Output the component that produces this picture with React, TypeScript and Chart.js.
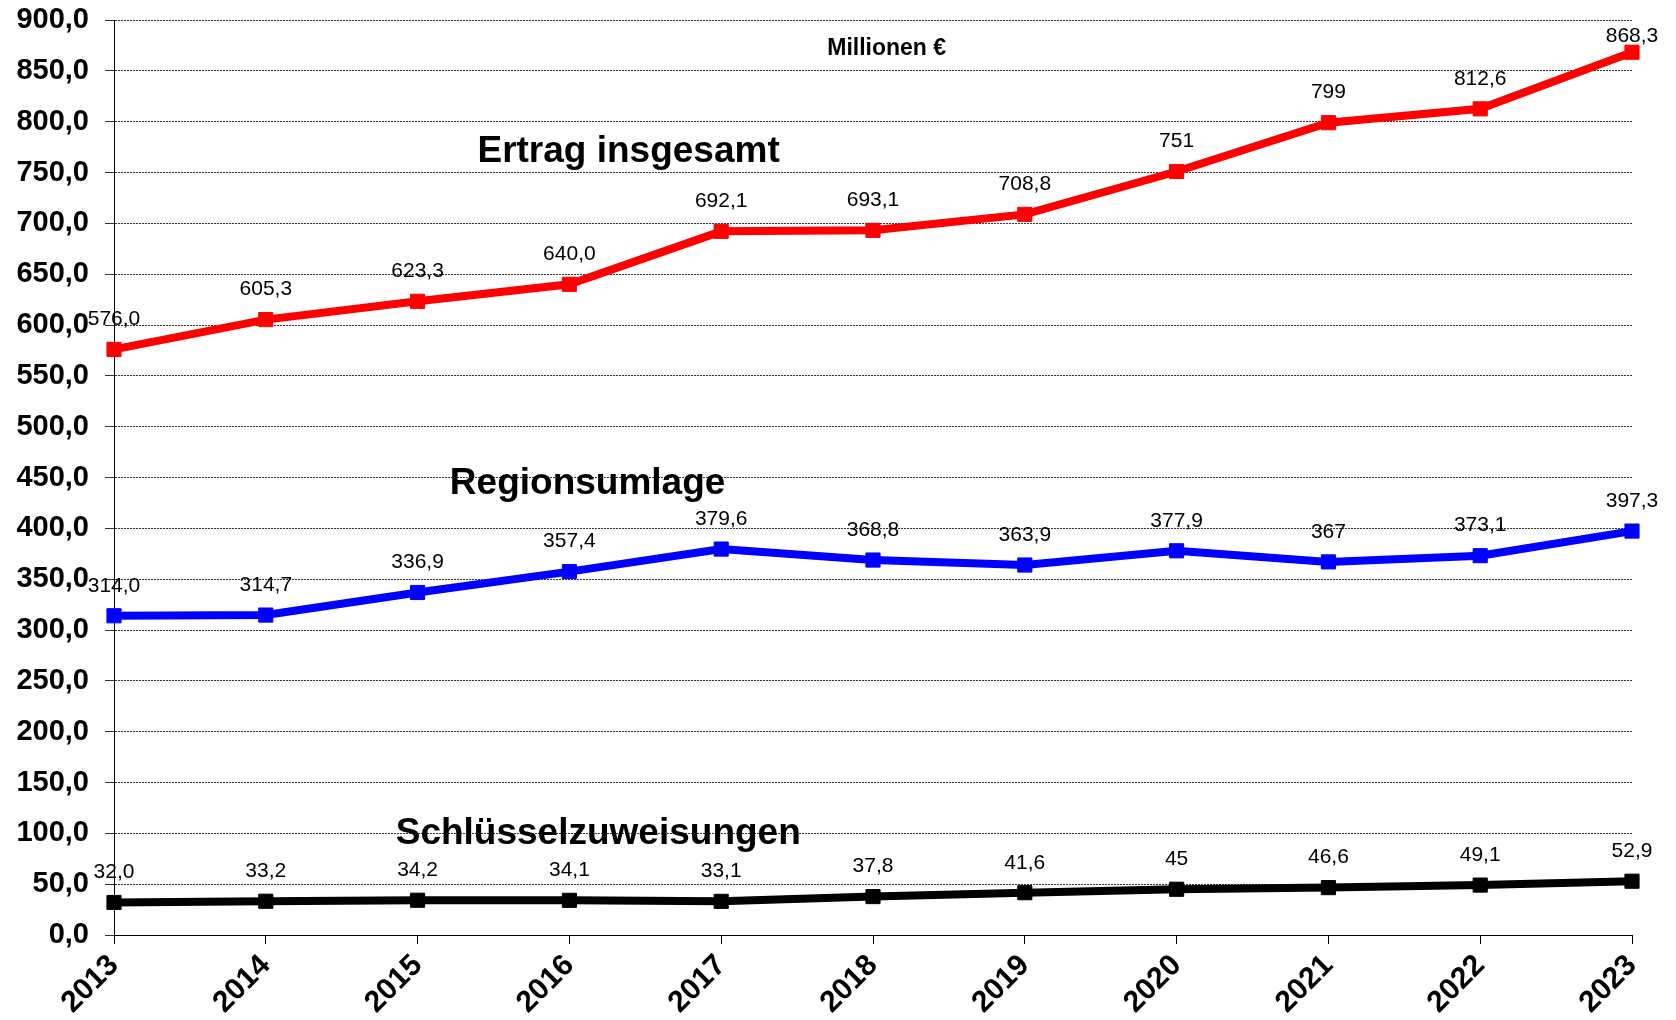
import React, { useEffect, useRef } from "react";
import { Chart, registerables } from "chart.js";

Chart.register(...registerables);

const years = ["2013", "2014", "2015", "2016", "2017", "2018", "2019", "2020", "2021", "2022", "2023"];
const ertrag = [576.0, 605.3, 623.3, 640.0, 692.1, 693.1, 708.8, 751, 799, 812.6, 868.3];
const ertragLabels = ["576,0", "605,3", "623,3", "640,0", "692,1", "693,1", "708,8", "751", "799", "812,6", "868,3"];
const region = [314.0, 314.7, 336.9, 357.4, 379.6, 368.8, 363.9, 377.9, 367, 373.1, 397.3];
const regionLabels = ["314,0", "314,7", "336,9", "357,4", "379,6", "368,8", "363,9", "377,9", "367", "373,1", "397,3"];
const schluessel = [32.0, 33.2, 34.2, 34.1, 33.1, 37.8, 41.6, 45, 46.6, 49.1, 52.9];
const schluesselLabels = ["32,0", "33,2", "34,2", "34,1", "33,1", "37,8", "41,6", "45", "46,6", "49,1", "52,9"];

// annotations placed in data coordinates (x = category index, y = value)
const annotations = [
  { text: "Ertrag insgesamt", x: 3.39, y: 770, size: 37 },
  { text: "Regionsumlage", x: 3.12, y: 444, size: 37 },
  { text: "Schlüsselzuweisungen", x: 3.19, y: 100, size: 37 },
  { text: "Millionen €", x: 5.09, y: 872, size: 23 },
];

const FONT = "'Liberation Sans', Arial, sans-serif";

const labelPlugin = {
  id: "customLabels",
  afterDatasetsDraw(chart: any) {
    const ctx = chart.ctx;
    const xs = chart.scales.x;
    const ys = chart.scales.y;
    ctx.save();
    ctx.fillStyle = "#000";
    ctx.textAlign = "center";
    ctx.textBaseline = "middle";
    ctx.font = `21px ${FONT}`;
    chart.data.datasets.forEach((ds: any, i: number) => {
      const meta = chart.getDatasetMeta(i);
      meta.data.forEach((pt: any, j: number) => {
        const y = Math.max(pt.y - 30, 36);
        ctx.fillText(ds.pointLabels[j], pt.x, y);
      });
    });
    annotations.forEach((a) => {
      ctx.font = `bold ${a.size}px ${FONT}`;
      ctx.fillText(a.text, xs.getPixelForValue(a.x), ys.getPixelForValue(a.y));
    });
    ctx.restore();
  },
};

export default function App() {
  const ref = useRef<HTMLCanvasElement>(null);
  useEffect(() => {
    document.body.style.margin = "0";
    const chart = new Chart(ref.current!, {
      type: "line",
      data: {
        labels: years,
        datasets: [
          { data: ertrag, pointLabels: ertragLabels, borderColor: "#ff0000", backgroundColor: "#ff0000" } as any,
          { data: region, pointLabels: regionLabels, borderColor: "#0000ff", backgroundColor: "#0000ff" } as any,
          { data: schluessel, pointLabels: schluesselLabels, borderColor: "#000000", backgroundColor: "#000000" } as any,
        ].map((d) => ({
          ...d,
          borderWidth: 8,
          pointStyle: "rect",
          pointRadius: 10,
          pointBorderWidth: 1,
          pointBorderColor: d.borderColor,
          tension: 0,
          fill: false,
          clip: false,
        })),
      },
      options: {
        animation: false,
        responsive: false,
        maintainAspectRatio: false,
        layout: { padding: { top: 20, right: 44, left: 0, bottom: 0 } },
        plugins: { legend: { display: false }, tooltip: { enabled: false }, title: { display: false } },
        scales: {
          x: {
            type: "category",
            offset: false,
            grid: {
              display: true,
              drawOnChartArea: false,
              drawTicks: true,
              tickLength: 9,
              color: "#000",
              lineWidth: 1,
            },
            border: { display: true, color: "#000", width: 1 },
            ticks: {
              color: "#000",
              font: { family: FONT, size: 30, weight: "bold" },
              minRotation: 45,
              maxRotation: 45,
              padding: 4,
              autoSkip: false,
            },
            afterFit: (s: any) => {
              s.height = 85;
              s.paddingLeft = 0;
              s.paddingRight = 0;
              s.paddingTop = 0;
              s.paddingBottom = 0;
            },
          },
          y: {
            min: 0,
            max: 900,
            ticks: {
              stepSize: 50,
              color: "#000",
              font: { family: FONT, size: 29, weight: "bold" },
              padding: 16,
              callback: (v: any) => Number(v).toFixed(1).replace(".", ","),
            },
            grid: {
              color: "#333",
              lineWidth: 1,
              tickLength: 9,
              tickBorderDash: [],
            } as any,
            border: { display: true, color: "#000", width: 1, dash: [2, 1] } as any,
            afterFit: (s: any) => {
              s.width = 114;
              s.paddingLeft = 0;
              s.paddingRight = 0;
              s.paddingTop = 0;
              s.paddingBottom = 0;
            },
          },
        },
      } as any,
      plugins: [labelPlugin],
    });
    return () => chart.destroy();
  }, []);
  return <canvas ref={ref} width={1676} height={1020} style={{ display: "block" }} />;
}
